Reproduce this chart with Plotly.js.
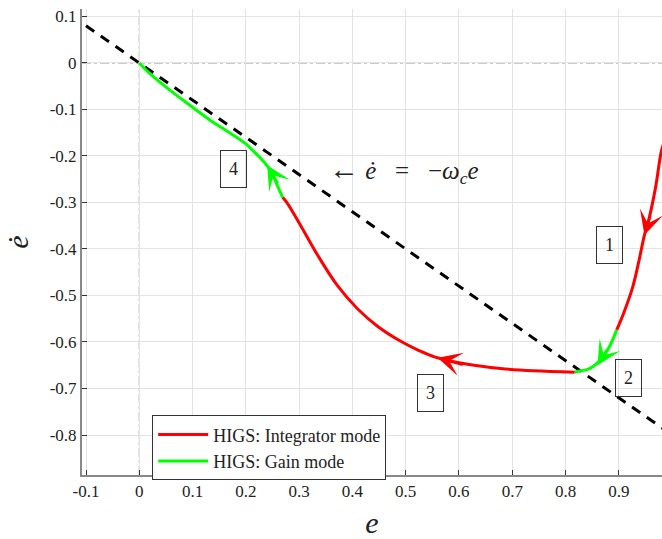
<!DOCTYPE html>
<html>
<head>
<meta charset="utf-8">
<script src="https://cdn.plot.ly/plotly-3.0.1.min.js"></script>
<style>html,body{margin:0;padding:0;background:#fff;}#chart{width:662px;height:539px;}</style>
</head>
<body>
<div id="chart"></div>
<script>
// Trajectory segments (e, edot)
const seg1_e    = [0.995, 0.983, 0.979, 0.969, 0.956, 0.948, 0.938, 0.926, 0.909, 0.896];
const seg1_edot = [-0.14, -0.177, -0.194, -0.267, -0.338, -0.370, -0.424, -0.482, -0.538, -0.574];
const seg2_e    = [0.896, 0.879, 0.860, 0.844, 0.829, 0.817];
const seg2_edot = [-0.574, -0.617, -0.645, -0.658, -0.662, -0.665];
const seg3_e    = [0.817, 0.740, 0.678, 0.616, 0.554, 0.524, 0.490, 0.447, 0.409, 0.372, 0.334, 0.302, 0.278, 0.269];
const seg3_edot = [-0.665, -0.662, -0.657, -0.648, -0.632, -0.618, -0.598, -0.566, -0.528, -0.479, -0.412, -0.348, -0.302, -0.289];
const seg4_e    = [0.269, 0.259, 0.246, 0.231, 0.218, 0.199, 0.171, 0.133, 0.095, 0.058, 0.020, 0.0];
const seg4_edot = [-0.289, -0.263, -0.231, -0.209, -0.194, -0.173, -0.151, -0.123, -0.091, -0.059, -0.023, 0.0];
// Switching line  edot = -wc e
const line_e    = [-0.1, 0.99];
const line_edot = [0.08, -0.792];
// Arrow heads: tip and a point behind it along the curve
const arrowTip_e    = [0.948, 0.860, 0.560, 0.240];
const arrowTip_edot = [-0.370, -0.650, -0.634, -0.220];
const arrowTail_e    = [0.960, 0.880, 0.610, 0.262];
const arrowTail_edot = [-0.325, -0.612, -0.650, -0.262];
const arrowColor = ['#ff0000', '#00ff00', '#ff0000', '#00ff00'];
// Numbered boxes
const boxLabels = ['1', '2', '3', '4'];
const box_e    = [0.883, 0.919, 0.547, 0.176];
const box_edot = [-0.392, -0.677, -0.710, -0.229];
// Ticks
const xTickVals = [-0.1, 0, 0.1, 0.2, 0.3, 0.4, 0.5, 0.6, 0.7, 0.8, 0.9];
const xTickText = ['-0.1', '0', '0.1', '0.2', '0.3', '0.4', '0.5', '0.6', '0.7', '0.8', '0.9'];
const yTickVals = [0.1, 0, -0.1, -0.2, -0.3, -0.4, -0.5, -0.6, -0.7, -0.8];
const yTickText = ['0.1', '0', '-0.1', '-0.2', '-0.3', '-0.4', '-0.5', '-0.6', '-0.7', '-0.8'];

const SERIF = '"Liberation Serif", "DejaVu Serif", serif';
const RED = '#ff0000', GREEN = '#00ff00';

const traces = [
  {x: line_e, y: line_edot, mode: 'lines', line: {color: '#000', width: 3, dash: '10px,8px'}, showlegend: false, hoverinfo: 'skip'},
  {x: seg1_e, y: seg1_edot, mode: 'lines', line: {color: RED, width: 3, shape: 'spline', smoothing: 1}, name: 'HIGS: Integrator mode', legendgroup: 'r'},
  {x: seg2_e, y: seg2_edot, mode: 'lines', line: {color: GREEN, width: 3, shape: 'spline', smoothing: 1}, name: 'HIGS: Gain mode', legendgroup: 'g'},
  {x: seg3_e, y: seg3_edot, mode: 'lines', line: {color: RED, width: 3, shape: 'spline', smoothing: 1}, showlegend: false, legendgroup: 'r'},
  {x: seg4_e, y: seg4_edot, mode: 'lines', line: {color: GREEN, width: 3, shape: 'spline', smoothing: 1}, showlegend: false, legendgroup: 'g'}
];

const annotations = [];
for (let i = 0; i < arrowTip_e.length; i++) {
  annotations.push({
    x: arrowTip_e[i], y: arrowTip_edot[i], ax: arrowTail_e[i], ay: arrowTail_edot[i],
    xref: 'x', yref: 'y', axref: 'x', ayref: 'y', text: '', showarrow: true,
    arrowhead: 3, arrowsize: 1.6, arrowwidth: 2.5, arrowcolor: arrowColor[i], standoff: 0
  });
}
for (let i = 0; i < boxLabels.length; i++) {
  annotations.push({
    x: box_e[i], y: box_edot[i], xref: 'x', yref: 'y', text: boxLabels[i], showarrow: false,
    font: {family: SERIF, size: 18, color: '#222'}, bordercolor: '#333', borderwidth: 1,
    borderpad: 8, bgcolor: 'rgba(255,255,255,0)'
  });
}
annotations.push({
  x: 0.497, y: -0.231, xref: 'x', yref: 'y', showarrow: false,
  text: '<span style="font-size:30px">\u2190</span> <i>\u0117</i> &nbsp; = &nbsp; \u2212<i>\u03c9<sub>c</sub>e</i>',
  font: {family: SERIF, size: 25, color: '#222'}
});

const layout = {
  width: 662, height: 539,
  margin: {l: 82, r: 0, t: 9, b: 64},
  paper_bgcolor: '#fff', plot_bgcolor: '#fff',
  font: {family: SERIF, size: 17, color: '#262626'},
  showlegend: true,
  legend: {x: 0.121, y: 0.128, xanchor: 'left', yanchor: 'top', bgcolor: '#fff',
           bordercolor: '#333', borderwidth: 1, font: {family: SERIF, size: 18, color: '#222'},
           tracegroupgap: 0, itemwidth: 50},
  xaxis: {
    range: [-0.1075, 0.981], tickvals: xTickVals, ticktext: xTickText,
    ticks: 'inside', ticklen: 5, tickcolor: '#333', showline: true, linecolor: '#888', linewidth: 2,
    showgrid: true, gridcolor: '#e3e3e3', gridwidth: 1, zeroline: false,
    tickfont: {family: SERIF, size: 17, color: '#222'},
    title: {text: '<i>e</i>', font: {family: SERIF, size: 30, color: '#222'}, standoff: 12}
  },
  yaxis: {
    range: [-0.886, 0.116], tickvals: yTickVals, ticktext: yTickText,
    ticks: 'inside', ticklen: 5, tickcolor: '#333', showline: true, linecolor: '#888', linewidth: 2,
    showgrid: true, gridcolor: '#e3e3e3', gridwidth: 1, zeroline: false,
    tickfont: {family: SERIF, size: 17, color: '#222'},
    title: {text: '<i>\u0117</i>', font: {family: SERIF, size: 30, color: '#222'}, standoff: 12}
  },
  shapes: [
    {type: 'line', xref: 'x', yref: 'paper', x0: 0, x1: 0, y0: 0, y1: 1, line: {color: '#888', width: 1, dash: 'dashdot'}, layer: 'below'},
    {type: 'line', xref: 'paper', yref: 'y', x0: 0, x1: 1, y0: 0, y1: 0, line: {color: '#888', width: 1, dash: 'dashdot'}, layer: 'below'}
  ],
  annotations: annotations
};

Plotly.newPlot('chart', traces, layout, {displayModeBar: false, staticPlot: true});
</script>
</body>
</html>
